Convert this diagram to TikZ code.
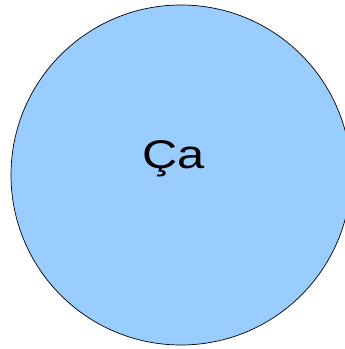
\documentclass[tikz,border=0pt]{standalone}
\usepackage{fontspec}
\setmainfont{Liberation Sans}

\begin{document}
\begin{tikzpicture}[
    x=1pt, y=1pt,
    disc/.style={circle, fill=bubble, draw=black, line width=0.7pt, inner sep=0pt},
    every node/.style={font=\fontsize{40}{44}\selectfont}
]

% ============================================================
% Rahmen (Bild 345 x 349)
% ============================================================
\definecolor{bubble}{HTML}{99CCFF}
\useasboundingbox (0,0) rectangle (345,349);
\clip (0,0) rectangle (345,349);

% ============================================================
% Kreis
% ============================================================
\node[disc, minimum size=340pt] (Disc) at (181,174) {};

% Beschriftung (etwas breit gezogen)
\node[anchor=base west, inner sep=0pt, xscale=1.22] (Label) at (142,180) {Ça};

\end{tikzpicture}
\end{document}
